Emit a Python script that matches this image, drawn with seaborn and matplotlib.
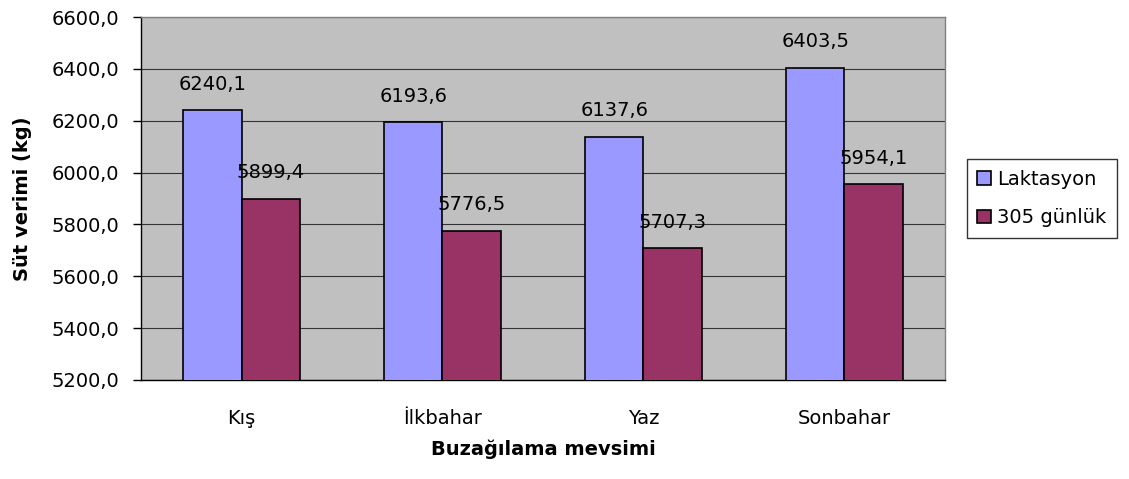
import matplotlib
matplotlib.use("Agg")
import matplotlib.pyplot as plt
import pandas as pd
import seaborn as sns

# ---------------------------------------------------------------------------
# Data
# ---------------------------------------------------------------------------
seasons = ["Kış", "İlkbahar", "Yaz", "Sonbahar"]
series_names = ["Laktasyon", "305 günlük"]
laktasyon = [6240.1, 6193.6, 6137.6, 6403.5]
gunluk_305 = [5899.4, 5776.5, 5707.3, 5954.1]
y_ticks = [5200, 5400, 5600, 5800, 6000, 6200, 6400, 6600]

df = pd.DataFrame({
    "season": seasons * 2,
    "series": [series_names[0]] * 4 + [series_names[1]] * 4,
    "value": laktasyon + gunluk_305,
})

sns.set_style("white")
plt.rcParams["font.family"] = ["DejaVu Sans"]
plt.rcParams["text.color"] = "black"
plt.rcParams["xtick.color"] = "black"
plt.rcParams["ytick.color"] = "black"
plt.rcParams["axes.labelcolor"] = "black"

fig = plt.figure(figsize=(11.29, 4.79), dpi=100)
ax = fig.add_axes([0.1249, 0.2067, 0.7121, 0.7578])
ax.set_facecolor("#C0C0C0")

sns.barplot(data=df, x="season", y="value", hue="series", order=seasons,
            hue_order=series_names, palette=["#9999FF", "#993366"],
            saturation=1, width=0.58, edgecolor="black", linewidth=1.2,
            ax=ax, zorder=3)

ax.set_ylim(5200, 6600)
ax.set_xlim(-0.5, 3.5)
ax.set_yticks(y_ticks)
ax.set_yticklabels([f"{v:.1f}".replace(".", ",") for v in y_ticks], fontsize=14)
ax.yaxis.grid(True, color="#333333", linewidth=0.8, zorder=0)
ax.set_axisbelow(True)

# Excel-style ticks between categories
ax.set_xticks(range(len(seasons)))
ax.set_xticklabels(seasons, fontsize=14)
ax.tick_params(axis="x", length=0, pad=21)
ax.set_xticks([-0.5, 0.5, 1.5, 2.5, 3.5], minor=True)
ax.tick_params(axis="x", which="minor", length=6, width=1, color="black", direction="out")
ax.tick_params(axis="y", length=6, width=1, color="black", direction="out", left=True, pad=10)

for side in ["top", "right"]:
    ax.spines[side].set_color("#808080")
    ax.spines[side].set_linewidth(1)
for side in ["left", "bottom"]:
    ax.spines[side].set_color("black")
    ax.spines[side].set_linewidth(1)

for cont in ax.containers:
    labels = [f"{b.get_height():.1f}".replace(".", ",") for b in cont]
    ax.bar_label(cont, labels=labels, padding=12, fontsize=14)

ax.set_xlabel("Buzağılama mevsimi", fontsize=14, fontweight="bold", labelpad=8)
ax.set_ylabel("Süt verimi (kg)", fontsize=14, fontweight="bold", labelpad=14)

leg = ax.legend(loc="center left", bbox_to_anchor=(1.027, 0.5), fontsize=14,
                frameon=True, fancybox=False, edgecolor="black",
                borderaxespad=0, handlelength=0.7, handleheight=0.7,
                handletextpad=0.3, labelspacing=1.0, borderpad=0.55)
leg.get_frame().set_linewidth(1)

plt.savefig("out.png", dpi=100)
plt.close()
